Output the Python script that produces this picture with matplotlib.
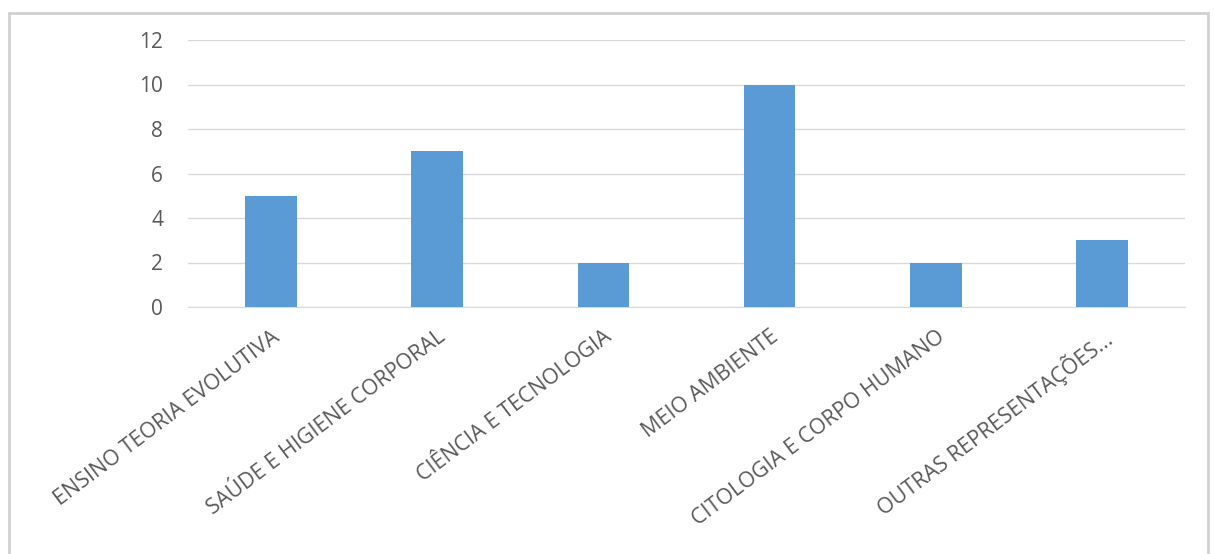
import matplotlib.pyplot as plt
from matplotlib.patches import Rectangle

categories = ["ENSINO TEORIA EVOLUTIVA", "SAÚDE E HIGIENE CORPORAL", "CIÊNCIA E TECNOLOGIA",
              "MEIO AMBIENTE", "CITOLOGIA E CORPO HUMANO", "OUTRAS REPRESENTAÇÕES..."]
values = [5, 7, 2, 10, 2, 3]
yticks = [0, 2, 4, 6, 8, 10, 12]

plt.rcParams['font.family'] = ['Open Sans', 'DejaVu Sans']

fig = plt.figure(figsize=(12.14, 5.54), dpi=100)
fig.patches.append(Rectangle((9 / 1214, -0.01), 1199 / 1214, 1 - 13 / 554 + 0.01,
                             transform=fig.transFigure, fill=False,
                             edgecolor='#d0d0d0', linewidth=2))

ax = fig.add_axes([188 / 1214, 1 - 307 / 554, 997 / 1214, 267 / 554])
x = range(len(categories))
ax.bar(x, values, width=0.31, color='#5b9bd5', zorder=3)

ax.set_xlim(-0.5, len(categories) - 0.5)
ax.set_ylim(0, 12)
ax.set_yticks(yticks)
ax.yaxis.grid(True, color='#d9d9d9', linewidth=1, zorder=0)
for s in ['top', 'right', 'left']:
    ax.spines[s].set_visible(False)
ax.spines['bottom'].set_color('#d9d9d9')
ax.tick_params(axis='both', length=0, colors='#595959', labelsize=15)
ax.tick_params(axis='y', pad=18)
ax.set_xticks(list(x))
ax.set_xticklabels(categories, rotation=37, ha='right', rotation_mode='anchor', fontsize=15.5)
ax.tick_params(axis='x', pad=14)

fig.savefig("out.png", dpi=100)
plt.close()
